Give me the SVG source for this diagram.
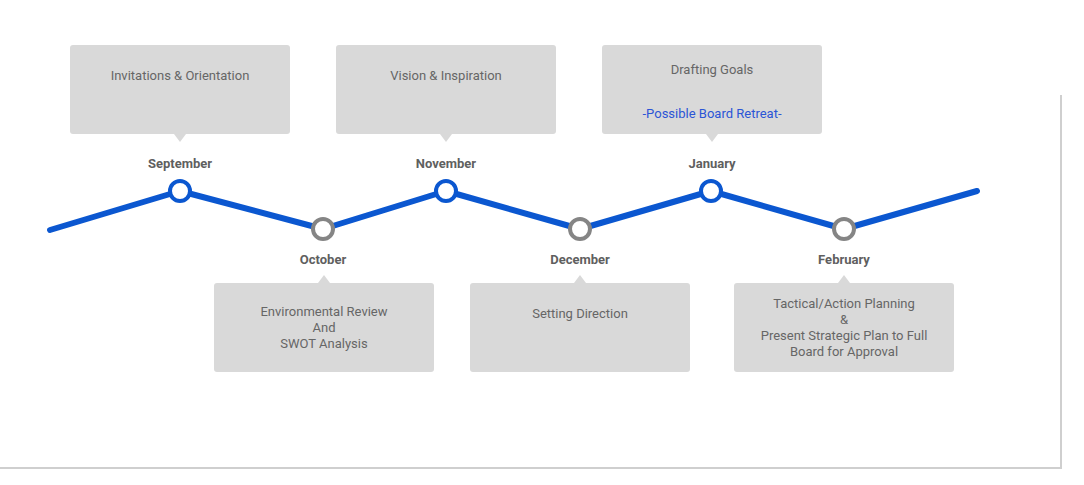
<svg xmlns="http://www.w3.org/2000/svg" width="1084" height="485" viewBox="0 0 1084 485">
<defs>
<style>
.box{fill:#d9d9d9}
.t{font-family:Roboto,"Liberation Sans",sans-serif;font-size:13px;fill:#666;text-anchor:middle}
.m{font-family:Roboto,"Liberation Sans",sans-serif;font-size:13px;font-weight:bold;fill:#5f5f5f;text-anchor:middle}
.blue{fill:#2b55d6}
.up{fill:#fff;stroke:#0b57d0;stroke-width:4}
.down{fill:#fff;stroke:#858585;stroke-width:4}
</style>
</defs>
<rect width="1084" height="485" fill="#fff"/>
<path d="M1061 95 V468 H0" fill="none" stroke="#cfcfcf" stroke-width="2"/>
<g id="connectors">
<polyline points="50,230 180,191 323,229 446,191 580,229 711,191 844,229 977,191" fill="none" stroke="#0b57d0" stroke-width="6" stroke-linecap="round" stroke-linejoin="round"/>
</g>
<g id="n-september">
<rect class="box" x="70" y="45" width="220" height="89" rx="3"/>
<polygon class="box" points="174,134 186,134 180,142"/>
<text class="t" x="180" y="80">Invitations &amp; Orientation</text>
<text class="m" x="180" y="168">September</text>
<circle class="up" cx="180" cy="191" r="10"/>
</g>
<g id="n-november">
<rect class="box" x="336" y="45" width="220" height="89" rx="3"/>
<polygon class="box" points="440,134 452,134 446,142"/>
<text class="t" x="446" y="80">Vision &amp; Inspiration</text>
<text class="m" x="446" y="168">November</text>
<circle class="up" cx="446" cy="191" r="10"/>
</g>
<g id="n-january">
<rect class="box" x="602" y="45" width="220" height="89" rx="3"/>
<polygon class="box" points="706,134 718,134 712,142"/>
<text class="t" x="712" y="74">Drafting Goals</text>
<text class="t blue" x="712" y="118">-Possible Board Retreat-</text>
<text class="m" x="712" y="168">January</text>
<circle class="up" cx="711" cy="191" r="10"/>
</g>
<g id="n-october">
<rect class="box" x="214" y="283" width="220" height="89" rx="3"/>
<polygon class="box" points="318,283 330,283 324,275"/>
<text class="t" x="324" y="316">Environmental Review</text>
<text class="t" x="324" y="332">And</text>
<text class="t" x="324" y="348">SWOT Analysis</text>
<text class="m" x="323" y="264">October</text>
<circle class="down" cx="323" cy="229" r="10"/>
</g>
<g id="n-december">
<rect class="box" x="470" y="283" width="220" height="89" rx="3"/>
<polygon class="box" points="574,283 586,283 580,275"/>
<text class="t" x="580" y="318">Setting Direction</text>
<text class="m" x="580" y="264">December</text>
<circle class="down" cx="580" cy="229" r="10"/>
</g>
<g id="n-february">
<rect class="box" x="734" y="283" width="220" height="89" rx="3"/>
<polygon class="box" points="838,283 850,283 844,275"/>
<text class="t" x="844" y="308">Tactical/Action Planning</text>
<text class="t" x="844" y="324">&amp;</text>
<text class="t" x="844" y="340">Present Strategic Plan to Full</text>
<text class="t" x="844" y="356">Board for Approval</text>
<text class="m" x="844" y="264">February</text>
<circle class="down" cx="844" cy="229" r="10"/>
</g>
</svg>
